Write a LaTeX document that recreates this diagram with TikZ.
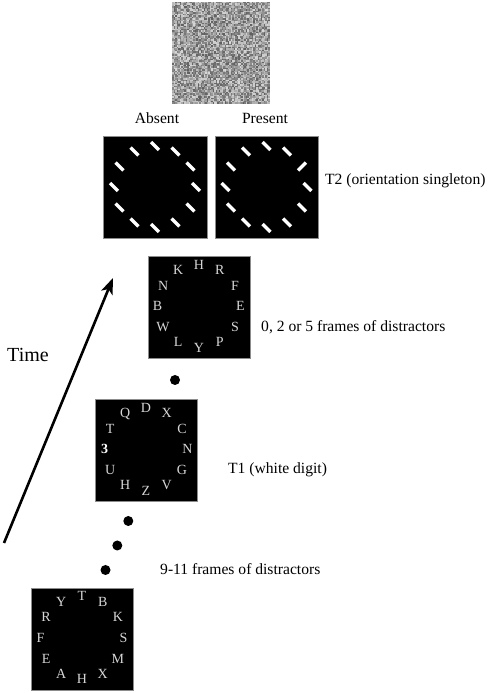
\documentclass[tikz,border=0pt]{standalone}
\usepackage{fontspec}
\setmainfont{Liberation Serif}
\usetikzlibrary{arrows.meta}
\tikzset{
  panel/.style={fill=black,draw=black!45,line width=.6pt,minimum size=102pt,inner sep=0pt},
  ltr/.style={text=black!16,inner sep=0pt,text height=.66em,text depth=0pt,font=\fontsize{14}{14}\selectfont},
  digit/.style={ltr,text=white,font=\fontsize{14}{14}\selectfont\bfseries},
  lbl/.style={anchor=west,inner sep=0pt,text height=.7em,text depth=.2em,font=\fontsize{15.6}{18}\selectfont},
  bar/.style={white,line width=3.4pt},
  dot/.style={circle,fill=black,minimum size=10pt,inner sep=0pt}
}
\begin{document}
\begin{tikzpicture}[x=1pt,y=1pt]
\path[use as bounding box] (0,0) rectangle (490,693);
\pgfmathsetseed{11}
\foreach \i in {0,...,64}
  \foreach \j in {0,...,67}{
    \pgfmathsetmacro\g{15+48*rnd}
    \fill[black!\g] (172+1.5*\i,589+1.5*\j) rectangle ++(1.5,1.5);
  }
\node[lbl,anchor=center,text depth=0pt] (absentlbl) at (157,573) {Absent};
\node[lbl,anchor=center,text depth=0pt] (presentlbl) at (265,573) {Present};
\node[panel,minimum width=104pt] (absent) at (155,506) {};
\node[panel,minimum width=103pt] (present) at (266.5,506) {};
\node[lbl] (ttwo) at (325,511) {T2 (orientation singleton)};
\begin{scope}[shift={(absent.center)}]
\foreach \a in {0,...,11}
  \draw[bar] (90-30*\a:41) ++(135:5.5) -- ++(-45:11);
\end{scope}
\begin{scope}[shift={(present.center)}]
\foreach \a in {0,...,11}{
  \ifnum\a=2 \def\o{45}\else\def\o{-45}\fi
  \draw[bar] (90-30*\a:41) ++(\o+180:5.5) -- ++(\o:11);
}
\end{scope}
\node[panel] (frames) at (199,385.5) {};
\begin{scope}[shift={(frames.center)}]
\foreach \l [count=\a from 0] in {H,R,F,E,S,P,Y,L,W,B,N,K}
  \node[ltr] (f\a) at (90-30*\a:41.5) {\l};
\end{scope}
\node[lbl] (framelbl) at (261,364) {0, 2 or 5 frames of distractors};
\node[dot] (d1) at (175,313) {};
\node[panel] (tone) at (146,242.5) {};
\begin{scope}[shift={(tone.center)}]
\foreach \l/\s [count=\a from 0] in {D/ltr,X/ltr,C/ltr,N/ltr,G/ltr,V/ltr,Z/ltr,H/ltr,U/ltr,3/digit,T/ltr,Q/ltr}
  \node[\s] (t\a) at (90-30*\a:41.5) {\l};
\end{scope}
\node[lbl] (tonelbl) at (228,222) {T1 (white digit)};
\node[dot] (d2) at (128.3,172) {};
\node[dot] (d3) at (117.3,147.5) {};
\node[dot] (d4) at (105.5,123) {};
\node[lbl] (distlbl) at (160,121) {9-11 frames of distractors};
\node[panel] (first) at (82,54) {};
\begin{scope}[shift={(first.center)}]
\foreach \l [count=\a from 0] in {T,B,K,S,M,X,H,A,E,F,R,Y}
  \node[ltr] (s\a) at (90-30*\a:41.5) {\l};
\end{scope}
\coordinate (tstart) at (4,150);
\coordinate (tend) at (113,415);
\draw[line width=2.6pt,-{Stealth[length=16pt,width=12pt,inset=4pt]}] (tstart) -- (tend);
\node[lbl,anchor=center,text depth=0pt,font=\fontsize{20}{24}\selectfont] (time) at (28,335) {Time};
\end{tikzpicture}
\end{document}
